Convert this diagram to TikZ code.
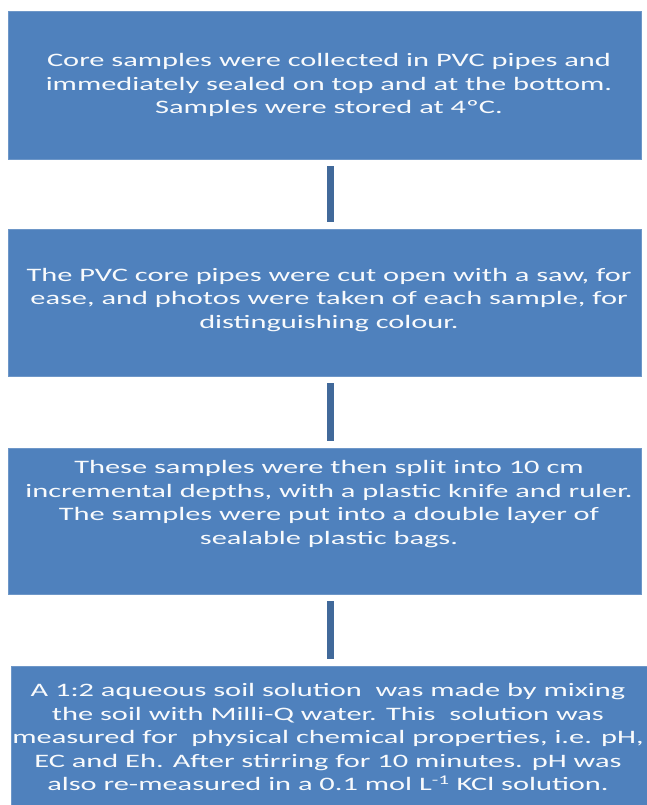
\documentclass[tikz,border=0pt]{standalone}
\usepackage{fontspec}
\setmainfont[FakeStretch=1.6]{Carlito}
\usepackage{tikz}
\definecolor{boxblue}{HTML}{4F81BD}
\definecolor{boxedge}{HTML}{6E97C8}
\definecolor{linkblue}{HTML}{41699A}

\begin{document}
\begin{tikzpicture}[
    x=1pt, y=-1pt,
    box/.style={rectangle, fill=boxblue, draw=boxedge, line width=0.8pt,
                minimum width=633pt, inner sep=0pt},
    txt/.style={text=white!96!boxblue, align=center, inner sep=0pt,
                font=\fontsize{19}{23.5}\selectfont},
    link/.style={draw=linkblue, line width=7pt, shorten <=7pt, shorten >=7pt},
  ]
  \useasboundingbox (0,0) rectangle (647,805);
  \clip (0,0) rectangle (647,805);
  \node[box, minimum height=148pt] (b1) at (324.5, 85) {};
  \node[box, minimum height=147pt] (b2) at (324.5, 302.5) {};
  \node[box, minimum height=146pt] (b3) at (324.5, 521) {};
  \node[box, minimum height=142pt, minimum width=636pt] (b4) at (329, 737) {};
  \node[txt] (t1) at (329, 85) {Core samples were collected in PVC pipes and\\
    immediately sealed on top and at the bottom.\\ Samples were stored at 4ºC.};
  \node[txt] (t2) at (329, 300) {The PVC core pipes were cut open with a saw, for\\
    ease, and photos were taken of each sample, for\\ distinguishing colour.};
  \node[txt] (t3) at (329, 504) {These samples were then split into 10 cm\\
    incremental depths, with a plastic knife and ruler.\\
    The samples were put into a double layer of\\ sealable plastic bags.};
  \node[txt] (t4) at (328, 737) {A 1:2 aqueous soil solution~ was made by mixing\\
    the soil with Milli-Q water. This~ solution was\\
    measured for~ physical chemical properties, i.e. pH,\\
    EC and Eh. After stirring for 10 minutes. pH was\\
    also re-measured in a 0.1 mol L\textsuperscript{-1} KCl solution.};
  \draw[link] ([xshift=6pt]b1.south) -- ([xshift=6pt]b2.north);
  \draw[link] ([xshift=6pt]b2.south) -- ([xshift=6pt]b3.north);
  \draw[link] ([xshift=6pt]b3.south) -- ([xshift=1.5pt]b4.north);
\end{tikzpicture}
\end{document}
